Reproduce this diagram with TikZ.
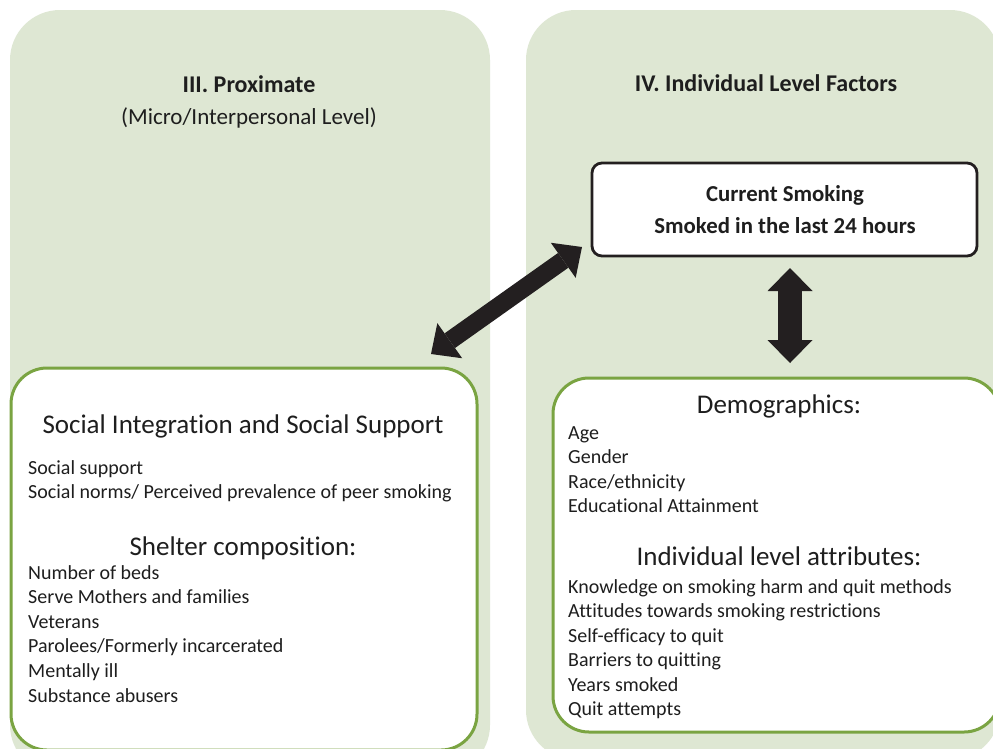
\documentclass[tikz,border=0pt]{standalone}
\usepackage{fontspec}
\setmainfont{Carlito}[Ligatures=CommonOff]
\usetikzlibrary{arrows.meta}
\definecolor{panelgreen}{RGB}{222,231,211}
\definecolor{edgegreen}{RGB}{122,164,66}
\definecolor{ink}{RGB}{35,31,32}
\definecolor{txt}{RGB}{30,30,30}
\begin{document}
\begin{tikzpicture}[x=1pt,y=-1pt,
  panel/.style={fill=panelgreen, draw=none, rounded corners=50pt, inner sep=0pt, outer sep=0pt},
  whitebox/.style={fill=white, draw=edgegreen, line width=3pt, rounded corners=36pt, inner sep=0pt, outer sep=0pt},
  smokebox/.style={fill=white, draw=ink, line width=2.8pt, rounded corners=10pt, inner sep=0pt, outer sep=0pt},
  heading/.style={anchor=base, text=txt, font=\fontsize{24}{28}\selectfont\bfseries, inner sep=0pt},
  subheading/.style={anchor=base, text=txt, font=\fontsize{23}{27}\selectfont, inner sep=0pt},
  boxhead/.style={anchor=base, text=txt, font=\fontsize{22.8}{27}\selectfont\bfseries, inner sep=0pt},
  grouptitle/.style={anchor=base, text=txt, font=\fontsize{27}{32}\selectfont, inner sep=0pt},
  item/.style={anchor=base west, text=txt, font=\fontsize{20}{24}\selectfont, inner sep=0pt},
  fatarrow/.style={draw=ink, line width=#1},
]
\useasboundingbox (0,0) rectangle (993,748);
\clip (0,0) rectangle (993,748);
\fill[white] (0,0) rectangle (993,748);

% the two background panels
\node[panel, minimum width=480pt, minimum height=765pt] (proxpanel) at (250,392.5) {};
\node[panel, minimum width=474pt, minimum height=750pt] (indpanel) at (763,385) {};

% panel headings
\node[heading] (proxtitle) at (249,92) {III. Proximate};
\node[subheading] (proxsub) at (249,124) {(Micro/Interpersonal Level)};
\node[heading] (indtitle) at (766,91) {IV. Individual Level Factors};

% boxes
\node[smokebox, minimum width=385pt, minimum height=93pt] (smoke) at (784.5,209.5) {};
\node[whitebox, minimum width=466pt, minimum height=382pt] (socbox) at (244,559) {};
\node[whitebox, minimum width=447pt, minimum height=354pt] (demobox) at (776.5,555) {};

% current smoking box text
\node[boxhead] (smokeA) at (785,201) {Current Smoking};
\node[boxhead] (smokeB) at (785,233) {Smoked in the last 24 hours};

% social integration box
\node[grouptitle] (soctitle) at (243,433) {Social Integration and Social Support};
\foreach \t [count=\i] in {Social support, Social norms/ Perceived prevalence of peer smoking}
  \node[item] (soc\i) at (28,{474+(\i-1)*24.4}) {\t};
\node[grouptitle] (sheltitle) at (243,555) {Shelter composition:};
\foreach \t [count=\i] in {Number of beds, Serve Mothers and families, Veterans,
    Parolees/Formerly incarcerated, Mentally ill, Substance abusers}
  \node[item] (shel\i) at (28,{579+(\i-1)*24.6}) {\t};

% demographics box
\node[grouptitle] (demotitle) at (779,413) {Demographics:};
\foreach \t [count=\i] in {Age, Gender, Race/ethnicity, Educational Attainment}
  \node[item] (demo\i) at (568,{439+(\i-1)*24.6}) {\t};
\node[grouptitle] (attrtitle) at (779,565) {Individual level attributes:};
\foreach \t [count=\i] in {Knowledge on smoking harm and quit methods,
    Attitudes towards smoking restrictions, Self-efficacy to quit,
    Barriers to quitting, Years smoked, Quit attempts}
  \node[item] (attr\i) at (568,{593+(\i-1)*24.5}) {\t};

% arrow end points beside the boxes
\coordinate (diagA) at ([shift={(-46,-14)}]socbox.north east);
\coordinate (diagB) at ([shift={(-10,-9)}]smoke.south west);
\coordinate (vertA) at (790,268);
\coordinate (vertB) at (790,363);

% thick two-headed arrows
\draw[fatarrow=18pt, {Triangle[length=23pt,width=43pt,line width=0pt]}-{Triangle[length=23pt,width=43pt,line width=0pt]}]
  (diagA) -- (diagB);
\draw[fatarrow=24pt, {Triangle[length=23pt,width=45pt,line width=0pt]}-{Triangle[length=23pt,width=45pt,line width=0pt]}]
  (vertA) -- (vertB);
\end{tikzpicture}
\end{document}
